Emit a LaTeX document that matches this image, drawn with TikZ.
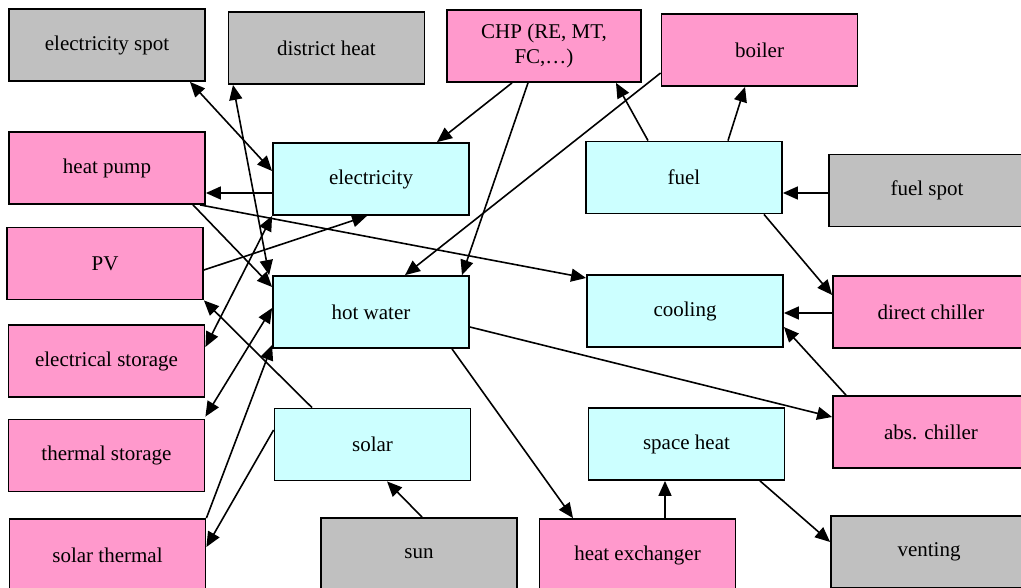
\documentclass[tikz,border=0pt]{standalone}
\usepackage{fontspec}
\setmainfont{Liberation Serif}
\usetikzlibrary{arrows.meta}
\definecolor{extgray}{HTML}{C0C0C0}
\definecolor{techpink}{HTML}{FF99CC}
\definecolor{carrier}{HTML}{CCFFFF}
\begin{document}
\begin{tikzpicture}[x=1pt,y=-1pt,
  box/.style={draw=black, line width=1.8pt, minimum width=196pt, minimum height=72pt,
    inner sep=0pt, font=\fontsize{21}{25}\selectfont, align=center},
  ext/.style={box, fill=extgray},
  tech/.style={box, fill=techpink},
  carr/.style={box, fill=carrier},
  conn/.style={line width=1.6pt, -{Triangle[length=15pt,width=13pt]}},
  both/.style={line width=1.6pt, {Triangle[length=15pt,width=13pt]}-{Triangle[length=15pt,width=13pt]}}
]
\useasboundingbox (0,0) rectangle (1021,588);
\clip (0,0) rectangle (1021,588);

% nodes
\node[ext]  (espot)    at (107,45)    {electricity spot};
\node[ext]  (dheat)    at (326.5,48)  {district heat};
\node[tech, minimum width=194pt] (chp) at (544,46) {CHP (RE, MT,\\FC,…)};
\node[tech] (boiler)   at (759.5,50)  {boiler};
\node[tech] (hpump)    at (107,168)   {heat pump};
\node[carr] (elec)     at (371,179)   {electricity};
\node[carr] (fuel)     at (684,177.5) {fuel};
\node[ext]  (fspot)    at (927,190.5) {fuel spot};
\node[tech] (pv)       at (105,263.5) {PV};
\node[carr] (hw)       at (371,312)   {hot water};
\node[carr] (cool)     at (685,311)   {cooling};
\node[tech] (dchill)   at (931,312)   {direct chiller};
\node[tech] (estor)    at (106.5,361) {electrical storage};
\node[tech] (tstor)    at (106.5,455.5) {thermal storage};
\node[carr] (solar)    at (372.5,444.5) {solar};
\node[carr] (space)    at (686.5,444) {space heat};
\node[tech] (abs)      at (931,432)   {abs. chiller};
\node[tech] (sthermal) at (107.5,555) {solar thermal};
\node[ext]  (sun)      at (419,554)   {sun};
\node[tech] (hx)       at (637.5,555) {heat exchanger};
\node[ext]  (vent)     at (929,552)   {venting};

% connectors
\draw[both] (190,0 |- espot.south) -- (elec.west |- 0,171);
\draw[both] (233,0 |- dheat.south) -- ([xshift=-3pt]hw.north west);
\draw[conn] (512,0 |- chp.south) -- (437,0 |- elec.north);
\draw[conn] (528,0 |- chp.south) -- (462,0 |- hw.north);
\draw[conn] (boiler.west |- 0,73) -- (405,0 |- hw.north);
\draw[conn] (648,0 |- fuel.north) -- (616,0 |- chp.south);
\draw[conn] (728,0 |- fuel.north) -- (745,0 |- boiler.south);
\draw[conn] (fspot.west |- 0,193) -- (fuel.east |- 0,193);
\draw[conn] (764,0 |- fuel.south) -- (dchill.west |- 0,295);
\draw[conn] (elec.west |- 0,193) -- (hpump.east |- 0,193);
\draw[conn] (193,0 |- hpump.south) -- (hw.west |- 0,287);
\draw[conn] (200,0 |- hpump.south) -- (cool.west |- 0,278);
\draw[conn] (pv.east |- 0,270) -- (367,0 |- elec.south);
\draw[both] (estor.east |- 0,347) -- (elec.south west);
\draw[both] ([yshift=2pt]tstor.north east) -- (hw.west |- 0,308);
\draw[conn] (sthermal.north east) -- (hw.west |- 0,345);
\draw[conn] (solar.west |- 0,430) -- (sthermal.east |- 0,547);
\draw[conn] (312,0 |- solar.north) -- (pv.south east);
\draw[conn] (422,0 |- sun.north) -- (387,0 |- solar.south);
\draw[conn] (452,0 |- hw.south) -- (573,0 |- hx.north);
\draw[conn] (hw.east |- 0,327) -- (abs.west |- 0,417);
\draw[conn] (665,0 |- hx.north) -- (665,0 |- space.south);
\draw[conn] (760,0 |- space.south) -- (vent.west |- 0,542);
\draw[conn] (dchill.west |- 0,313) -- (cool.east |- 0,313);
\draw[conn] (846,0 |- abs.north) -- (cool.east |- 0,327);
\end{tikzpicture}
\end{document}
